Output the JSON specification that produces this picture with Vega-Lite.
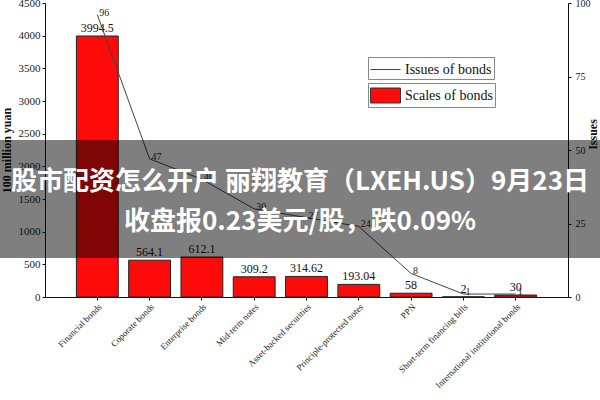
{
  "$schema": "https://vega.github.io/schema/vega-lite/v6.json",
  "width": 523,
  "height": 294,
  "autosize": {"type": "none"},
  "padding": {"left": 45, "top": 3, "right": 32, "bottom": 103},
  "background": "white",
  "config": {"view": {"stroke": null}, "font": "Liberation Serif"},
  "datasets": {
    "bonds": [
      {"type": "Financial bonds", "scale": 3994.5, "issues": 96},
      {"type": "Coporate bonds", "scale": 564.1, "issues": 47},
      {"type": "Enterprise bonds", "scale": 612.1, "issues": 40},
      {"type": "Mid-term notes", "scale": 309.2, "issues": 30},
      {"type": "Asset-backed securities", "scale": 314.62, "issues": 27},
      {"type": "Principle-protected notes", "scale": 193.04, "issues": 24},
      {"type": "PPN", "scale": 58, "issues": 8},
      {"type": "Short-term financing bills", "scale": 2, "issues": 1},
      {"type": "International institutional bonds", "scale": 30, "issues": 1}
    ],
    "banner": [{"top": 2403, "bottom": 597}],
    "headline": [
      {"line": "股市配资怎么开户 丽翔教育（LXEH.US）9月23日", "pos": 1760},
      {"line": "收盘报0.23美元/股，跌0.09%", "pos": 1148}
    ]
  },
  "layer": [
    {
      "data": {"name": "bonds"},
      "encoding": {
        "x": {
          "field": "type", "type": "nominal", "sort": null,
          "scale": {"paddingInner": 0.2, "paddingOuter": 0.6},
          "axis": {
            "title": null, "labelAngle": -45, "labelFontSize": 9, "labelColor": "#222",
            "labelFont": "Liberation Serif", "domainColor": "#111", "tickColor": "#111", "tickSize": 3,
            "labelPadding": 2
          }
        },
        "y": {
          "field": "scale", "type": "quantitative",
          "scale": {"domain": [0, 4500], "nice": false},
          "axis": {
            "orient": "left", "values": [0, 500, 1000, 1500, 2000, 2500, 3000, 3500, 4000, 4500],
            "format": "d",
            "grid": false, "title": "100 million yuan", "titleFontWeight": "bold", "titleFontSize": 12,
            "titleFont": "Liberation Serif", "titleColor": "#111", "titlePadding": 5,
            "labelFontSize": 11, "labelColor": "#222", "labelFont": "Liberation Serif",
            "domainColor": "#111", "tickColor": "#111", "tickSize": 3, "labelPadding": 2
          }
        }
      },
      "layer": [
        {
          "mark": {"type": "bar", "stroke": "#222", "strokeWidth": 1},
          "encoding": {
            "fill": {
              "datum": "Scales of bonds",
              "scale": {"range": ["#ff0a0a"]},
              "legend": {
                "title": null, "orient": "none", "legendX": 323, "legendY": 80,
                "strokeColor": "#888", "padding": 2, "labelFont": "Liberation Serif",
                "labelFontSize": 14, "labelColor": "#111",
                "symbolType": "M-1.5,-0.75H1.5V0.75H-1.5Z", "symbolSize": 400,
                "symbolStrokeColor": "#333", "symbolStrokeWidth": 1,
                "symbolOffset": 5, "labelOffset": 9
              }
            }
          }
        },
        {
          "mark": {"type": "text", "baseline": "bottom", "dy": -1, "fontSize": 12, "color": "#111", "font": "Liberation Serif"},
          "encoding": {"text": {"field": "scale", "type": "nominal"}}
        }
      ]
    },
    {
      "data": {"name": "bonds"},
      "encoding": {
        "x": {"field": "type", "type": "nominal", "sort": null},
        "y": {
          "field": "issues", "type": "quantitative",
          "scale": {"domain": [0, 100], "nice": false},
          "axis": {
            "orient": "right", "values": [0, 25, 50, 75, 100], "grid": false,
            "title": "Issues", "titleAngle": 270, "titleX": 31, "titleY": 131,
            "titleAlign": "center", "titleBaseline": "bottom",
            "titleFontWeight": "bold", "titleFontSize": 12, "titleFont": "Liberation Serif", "titleColor": "#111",
            "labelFontSize": 10, "labelColor": "#222", "labelFont": "Liberation Serif",
            "domainColor": "#111", "tickColor": "#111", "tickSize": 3, "labelPadding": 4
          }
        }
      },
      "layer": [
        {
          "mark": {"type": "line", "strokeWidth": 1},
          "encoding": {
            "stroke": {
              "datum": "Issues of bonds",
              "scale": {"range": ["#444444"]},
              "legend": {
                "title": null, "orient": "none", "legendX": 323, "legendY": 54,
                "strokeColor": "#888", "padding": 2, "labelFont": "Liberation Serif",
                "labelFontSize": 14, "labelColor": "#111",
                "symbolType": "M-1.5,0H1.5", "symbolSize": 400, "symbolStrokeWidth": 1,
                "symbolOffset": 5, "labelOffset": 9
              }
            }
          }
        },
        {
          "mark": {"type": "text", "align": "left", "baseline": "middle", "dx": 2, "dy": -2, "fontSize": 10, "color": "#222", "font": "Liberation Serif"},
          "encoding": {"text": {"field": "issues", "type": "nominal"}}
        }
      ]
    },
    {
      "encoding": {
        "y": {"field": "top", "type": "quantitative", "scale": {"domain": [0, 4500], "nice": false}, "axis": null}
      },
      "layer": [
        {
          "data": {"name": "banner"},
          "mark": {"type": "rect", "color": "#000000", "opacity": 0.5},
          "encoding": {
            "x": {"value": -45},
            "x2": {"value": 555},
            "y": {"field": "top", "type": "quantitative"},
            "y2": {"field": "bottom"}
          }
        },
        {
          "data": {"name": "headline"},
          "mark": {"type": "text", "color": "white", "font": "Noto Sans CJK SC", "fontWeight": "bold", "fontSize": 26, "align": "center", "baseline": "middle"},
          "encoding": {
            "x": {"value": 255},
            "y": {"field": "pos", "type": "quantitative"},
            "text": {"field": "line", "type": "nominal"}
          }
        }
      ]
    }
  ],
  "resolve": {"scale": {"y": "independent", "x": "shared"}}
}
